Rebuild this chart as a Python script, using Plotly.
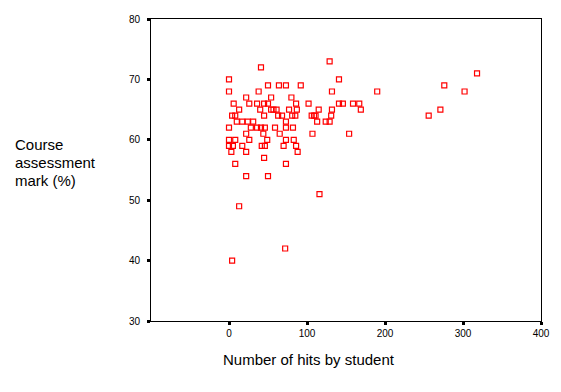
import plotly.graph_objects as go

# Data (hits, mark)
hits = [
    129,
    41,
    318,
    0, 141,
    50, 64, 73, 92, 276,
    0, 38, 132, 190, 302,
    22, 54, 80,
    6, 26, 36, 45, 50, 86, 102, 141, 146, 159, 167,
    13, 40, 54, 57, 61, 77, 87, 115, 132, 169, 271,
    4, 8, 45, 63, 68, 81, 85, 106, 109, 111, 131, 256,
    10, 17, 24, 31, 73, 113, 124, 129,
    0, 28, 36, 41, 46, 59, 73, 82,
    22, 44, 65, 107, 154,
    0, 8, 26, 49, 73, 83,
    0, 5, 17, 42, 46, 70, 86,
    3, 22, 88,
    45,
    8, 73,
    22, 50,
    116,
    13,
    72,
    4,
]
marks = [
    73,
    72,
    71,
    70, 70,
    69, 69, 69, 69, 69,
    68, 68, 68, 68, 68,
    67, 67, 67,
    66, 66, 66, 66, 66, 66, 66, 66, 66, 66, 66,
    65, 65, 65, 65, 65, 65, 65, 65, 65, 65, 65,
    64, 64, 64, 64, 64, 64, 64, 64, 64, 64, 64, 64,
    63, 63, 63, 63, 63, 63, 63, 63,
    62, 62, 62, 62, 62, 62, 62, 62,
    61, 61, 61, 61, 61,
    60, 60, 60, 60, 60, 60,
    59, 59, 59, 59, 59, 59, 59,
    58, 58, 58,
    57,
    56, 56,
    54, 54,
    51,
    49,
    42,
    40,
]

x_ticks = [0, 100, 200, 300, 400]
y_ticks = [30, 40, 50, 60, 70, 80]
y_title_lines = ["Course", "assessment", "mark (%)"]

FONT = "Liberation Sans, Arial, sans-serif"

fig = go.Figure()
fig.add_trace(go.Scatter(
    x=hits, y=marks, mode="markers",
    marker=dict(symbol="square-open", size=5, color="#ff0000",
                line=dict(width=1.2, color="#ff0000")),
    showlegend=False,
))

axis_common = dict(
    showline=True, linecolor="black", linewidth=1, mirror=True,
    showgrid=False, zeroline=False, ticks="outside", ticklen=3,
    tickwidth=3, tickcolor="black",
    tickfont=dict(family=FONT, size=10, color="black"),
)

annotations = []
for i, line in enumerate(y_title_lines):
    annotations.append(dict(
        text=line, xref="paper", yref="paper",
        x=-0.3538, y=0.583 - i * 0.0596, xanchor="left", yanchor="middle",
        showarrow=False, font=dict(family=FONT, size=15, color="black")))
annotations.append(dict(
    text="Number of hits by student", xref="paper", yref="paper",
    x=0.405, y=-0.126, xanchor="center", yanchor="middle",
    showarrow=False, font=dict(family=FONT, size=15, color="black")))

fig.update_layout(
    width=561, height=392,
    margin=dict(l=151, r=20, t=19, b=71),
    paper_bgcolor="white", plot_bgcolor="white",
    xaxis=dict(range=[-100, 400], tickvals=x_ticks, **axis_common),
    yaxis=dict(range=[30, 80], tickvals=y_ticks, ticklabelstandoff=5, **axis_common),
    annotations=annotations,
)

fig.write_html("out.html")
